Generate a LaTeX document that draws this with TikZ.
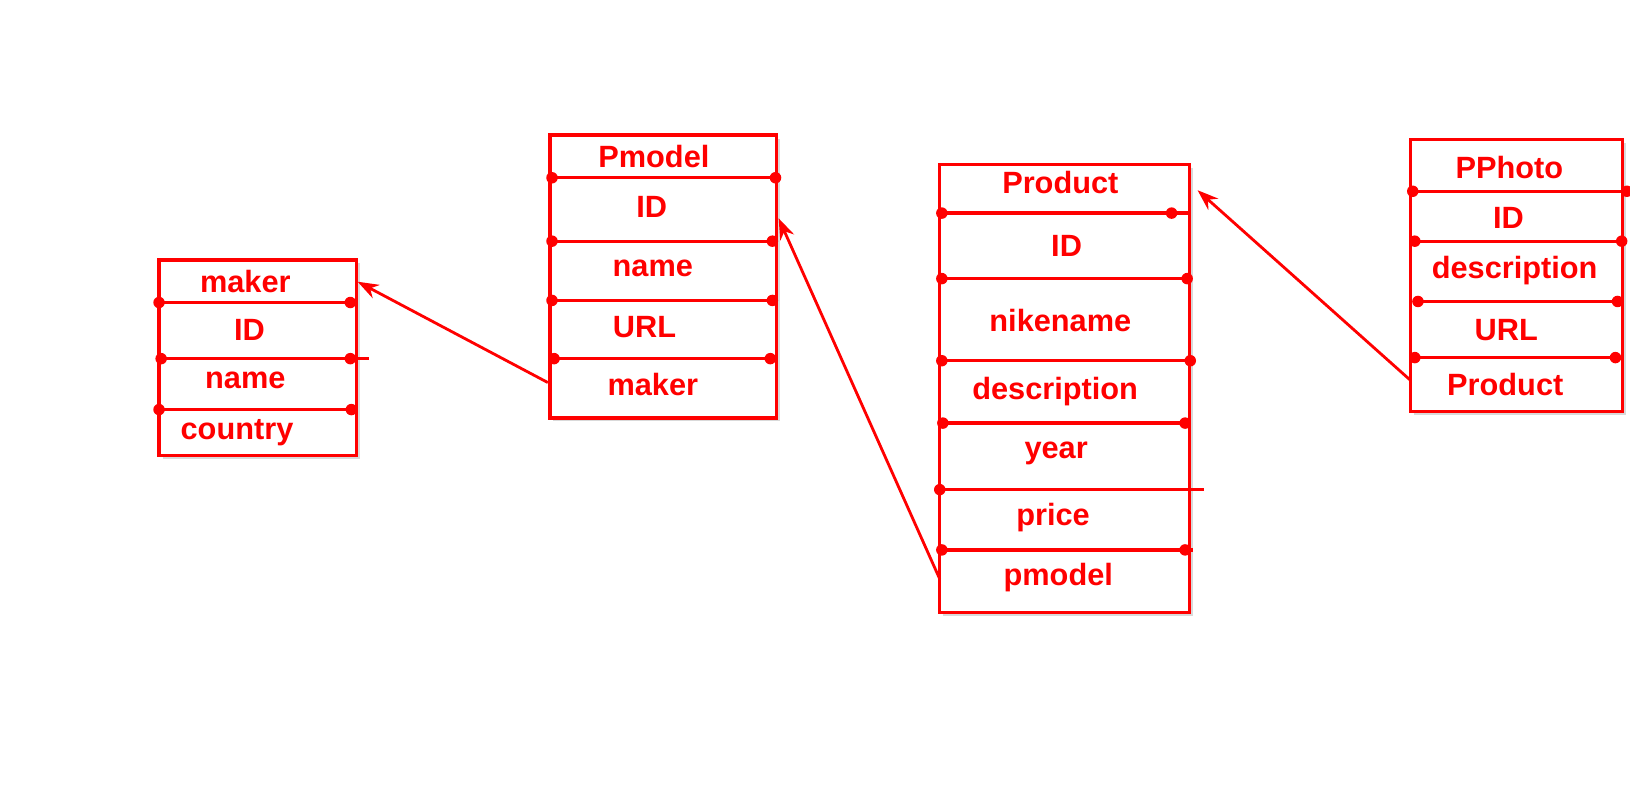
\documentclass[tikz,border=0pt]{standalone}
\usepackage{fontspec}
\setmainfont{Liberation Sans}
\usetikzlibrary{arrows.meta,shadows}

\begin{document}
\begin{tikzpicture}
  [x=0.0208cm,y=-0.0208cm,
   every node/.style={text=red,font=\bfseries\fontsize{17.5}{20}\selectfont},
   tbl/.style={draw=red,fill=white,line width=1.9pt,
     drop shadow={opacity=0.3,fill=gray,shadow xshift=0.07cm,shadow yshift=-0.07cm}},
   sep/.style={draw=red,line width=1.9pt},
   dot/.style={circle,fill=red,inner sep=0pt,minimum size=0.23cm},
   link/.style={draw=red,line width=1.6pt,-{Stealth[length=0.42cm,width=0.3cm]}}]

  \useasboundingbox (0,0) rectangle (1568,755);

  % maker
  \draw[tbl] (153,250) rectangle (343,438);
  \node (mk0) at (236,271) {maker};
  \node (mk1) at (240,317) {ID};
  \node (mk2) at (236,366) {name};
  \node (mk3) at (228,416) {country};
  \node[dot] (mk1l) at (153,291) {};
  \node[dot] (mk1r) at (337,291) {};
  \node[dot] (mk2l) at (155,345) {};
  \node[dot] (mk2r) at (337,345) {};
  \coordinate (mk2e) at (355,345);
  \node[dot] (mk3l) at (153,394) {};
  \node[dot] (mk3r) at (338,394) {};
  \path[sep]
     (mk1l.center) edge (mk1r.center)
     (mk2l.center) edge (mk2e)
     (mk3l.center) edge (mk3r.center);

  % Pmodel
  \draw[tbl] (529,130) rectangle (747,402);
  \node (pm0) at (629,151) {Pmodel};
  \node (pm1) at (627,199) {ID};
  \node (pm2) at (628,258) {name};
  \node (pm3) at (620,315) {URL};
  \node (pm4) at (628,370) {maker};
  \node[dot] (pm1l) at (531,171) {};
  \node[dot] (pm1r) at (746,171) {};
  \node[dot] (pm2l) at (531,232) {};
  \node[dot] (pm2r) at (743,232) {};
  \node[dot] (pm3l) at (531,289) {};
  \node[dot] (pm3r) at (743,289) {};
  \node[dot] (pm4l) at (533,345) {};
  \node[dot] (pm4r) at (741,345) {};
  \path[sep]
     (pm1l.center) edge (pm1r.center)
     (pm2l.center) edge (pm2r.center)
     (pm3l.center) edge (pm3r.center)
     (pm4l.center) edge (pm4r.center);

  % Product
  \draw[tbl] (904,158) rectangle (1144,589);
  \node (pr0) at (1020,176) {Product};
  \node (pr1) at (1026,237) {ID};
  \node (pr2) at (1020,308) {nikename};
  \node (pr3) at (1015,377) {description};
  \node (pr4) at (1016,436) {year};
  \node (pr5) at (1013,498) {price};
  \node (pr6) at (1018,556) {pmodel};
  \node[dot] (pr1l) at (906,205) {};
  \node[dot] (pr1r) at (1127,205) {};
  \coordinate (pr1e) at (1144,205);
  \node[dot] (pr2l) at (906,268) {};
  \node[dot] (pr2r) at (1142,268) {};
  \node[dot] (pr3l) at (906,347) {};
  \node[dot] (pr3r) at (1145,347) {};
  \node[dot] (pr4l) at (907,407) {};
  \node[dot] (pr4r) at (1140,407) {};
  \node[dot] (pr5l) at (904,471) {};
  \coordinate (pr5e) at (1158,471);
  \node[dot] (pr6l) at (906,529) {};
  \node[dot] (pr6r) at (1140,529) {};
  \coordinate (pr6e) at (1148,529);
  \path[sep]
     (pr1l.center) edge (pr1e)
     (pr2l.center) edge (pr2r.center)
     (pr3l.center) edge (pr3r.center)
     (pr4l.center) edge (pr4r.center)
     (pr5l.center) edge (pr5e)
     (pr6l.center) edge (pr6e);

  % PPhoto
  \draw[tbl] (1357,134) rectangle (1561,396);
  \node (ph0) at (1452,161) {PPhoto};
  \node (ph1) at (1451,210) {ID};
  \node (ph2) at (1457,260) {description};
  \node (ph3) at (1449,318) {URL};
  \node (ph4) at (1448,370) {Product};
  \node[dot] (ph1l) at (1359,184) {};
  \node[dot] (ph1r) at (1565,184) {};
  \node[dot] (ph2l) at (1361,232) {};
  \node[dot] (ph2r) at (1560,232) {};
  \node[dot] (ph3l) at (1364,290) {};
  \node[dot] (ph3r) at (1556,290) {};
  \node[dot] (ph4l) at (1361,344) {};
  \node[dot] (ph4r) at (1554,344) {};
  \path[sep]
     (ph1l.center) edge (ph1r.center)
     (ph2l.center) edge (ph2r.center)
     (ph3l.center) edge (ph3r.center)
     (ph4l.center) edge (ph4r.center);

  % links
  \coordinate (mkin) at (344,271);
  \coordinate (pmout) at (527,368);
  \coordinate (pmin) at (749,210);
  \coordinate (prout) at (904,557);
  \coordinate (prin) at (1152,183);
  \coordinate (phout) at (1357,366);
  \draw[link] (pmout) -- (mkin);
  \draw[link] (prout) -- (pmin);
  \draw[link] (phout) -- (prin);

\end{tikzpicture}
\end{document}
